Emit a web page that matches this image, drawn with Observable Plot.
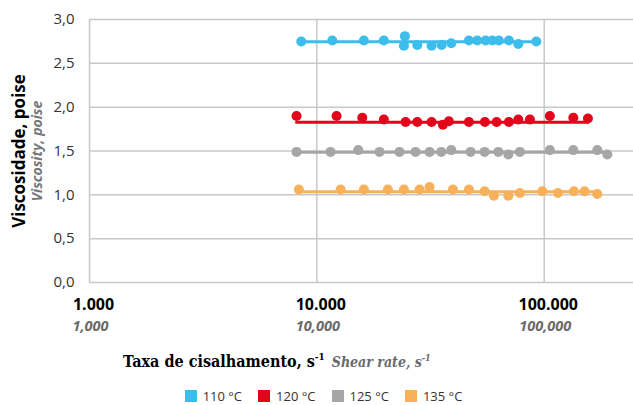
<!DOCTYPE html>
<html>
<head>
<meta charset="utf-8">
<script src="https://cdn.jsdelivr.net/npm/d3@7"></script>
<script src="https://cdn.jsdelivr.net/npm/@observablehq/plot@0.6"></script>
<style>
  body { margin: 0; background: #fff; }
  #legend { display: flex; justify-content: center; gap: 16px; height: 18px; line-height: 18px;
    font: 13px "Open Sans", sans-serif; color: #333; padding-left: 14px; }
  #legend span { display: inline-flex; align-items: center; }
  #legend i { display: inline-block; width: 12px; height: 12px; margin-right: 6px; }
</style>
</head>
<body>
<div id="chart"></div>
<div id="legend"></div>
<script>
const temps = ["110 °C", "120 °C", "125 °C", "135 °C"];
const colors = ["#3dbdec", "#e3051b", "#a6a6a6", "#f8b15b"];

const rate110 = [8540, 11690, 16100, 19710, 24390, 24150, 27650, 31960, 35370, 39020, 46640, 50780, 55240, 59110, 63200, 69940, 76920, 92320];
const visc110 = [2.75, 2.76, 2.76, 2.76, 2.81, 2.70, 2.71, 2.70, 2.71, 2.73, 2.76, 2.76, 2.76, 2.76, 2.76, 2.76, 2.72, 2.75];

const rate120 = [8140, 12210, 15840, 19710, 24560, 27650, 31960, 35840, 38080, 46640, 54840, 61740, 69940, 76920, 86510, 105900, 134300, 155700];
const visc120 = [1.90, 1.90, 1.88, 1.86, 1.83, 1.83, 1.83, 1.80, 1.84, 1.83, 1.83, 1.83, 1.83, 1.86, 1.86, 1.90, 1.88, 1.87];

const rate125 = [8140, 11490, 15210, 18870, 23110, 27180, 31320, 35260, 39020, 47460, 54670, 62840, 69500, 78180, 105900, 134300, 171200, 189500];
const visc125 = [1.49, 1.49, 1.51, 1.49, 1.49, 1.49, 1.49, 1.49, 1.51, 1.49, 1.49, 1.49, 1.46, 1.49, 1.51, 1.51, 1.51, 1.46];

const rate135 = [8330, 12720, 16100, 20530, 24150, 28310, 31320, 39660, 46640, 54670, 60070, 69500, 78180, 98080, 114900, 135100, 150500, 171200];
const visc135 = [1.06, 1.06, 1.06, 1.06, 1.06, 1.06, 1.09, 1.06, 1.06, 1.04, 0.99, 0.99, 1.02, 1.04, 1.02, 1.04, 1.04, 1.01];

// level of the fitted horizontal line for each temperature
const fitLevel = [2.745, 1.829, 1.486, 1.035];

const xTicks = [1000, 10000, 100000];
const yTicks = [0, 0.5, 1, 1.5, 2, 2.5, 3];

const rates = [rate110, rate120, rate125, rate135];
const viscs = [visc110, visc120, visc125, visc135];

const data = temps.flatMap((t, i) => rates[i].map((r, j) => ({temp: t, rate: r, visc: viscs[i][j]})));
const fitData = temps.flatMap((t, i) => [
  {temp: t, rate: d3.min(rates[i]), visc: fitLevel[i]},
  {temp: t, rate: d3.max(rates[i]), visc: fitLevel[i]}
]);

const ptFormat = d => d3.format(",")(d).replace(/,/g, ".");
const enFormat = d3.format(",");

const svg = Plot.plot({
  width: 633,
  height: 387,
  marginLeft: 89,
  marginRight: 0,
  marginTop: 19,
  marginBottom: 105,
  style: {fontFamily: "'Open Sans', sans-serif", background: "white", overflow: "visible"},
  x: {type: "log", domain: [1000, 247000]},
  y: {domain: [0, 3]},
  color: {domain: temps, range: colors},
  marks: [
    Plot.gridY(yTicks, {stroke: "#c8c8c8", strokeOpacity: 1, strokeWidth: 1.5}),
    Plot.gridX(xTicks, {stroke: "#c8c8c8", strokeOpacity: 1, strokeWidth: 1.5}),
    Plot.axisY(yTicks, {tickSize: 0, tickPadding: 15, tickFormat: d => d.toFixed(1).replace(".", ","),
      fontSize: 15, fill: "#333", label: null}),
    Plot.axisX(xTicks, {tickSize: 0, tickPadding: 16, tickFormat: ptFormat, fontSize: 16,
      fontWeight: "bold", fill: "#000", label: null, dx: 4}),
    Plot.axisX(xTicks, {tickSize: 0, tickPadding: 38, tickFormat: enFormat, fontSize: 14.5,
      fontStyle: "italic", fontWeight: "bold", fill: "#6a6a6a", label: null, dx: 1}),
    Plot.line(fitData, {x: "rate", y: "visc", z: "temp", stroke: "temp", strokeWidth: 3}),
    Plot.dot(data, {x: "rate", y: "visc", fill: "temp", r: 5})
  ]
});
document.getElementById("chart").appendChild(svg);

const s = d3.select(svg);
s.append("text")
  .attr("transform", "translate(25,151) rotate(-90)")
  .attr("text-anchor", "middle")
  .style("font", "bold 17px 'Open Sans', sans-serif")
  .attr("fill", "#000")
  .text("Viscosidade, poise");
s.append("text")
  .attr("transform", "translate(42,151) rotate(-90)")
  .attr("text-anchor", "middle")
  .style("font", "italic bold 14px 'Open Sans', sans-serif")
  .attr("fill", "#777")
  .text("Viscosity, poise");

const xt = s.append("text").attr("x", 123).attr("y", 367).attr("text-anchor", "start");
xt.append("tspan").style("font", "bold condensed 16px 'DejaVu Serif', serif").attr("fill", "#000").text("Taxa de cisalhamento, s");
xt.append("tspan").style("font", "bold condensed 10px 'DejaVu Serif', serif").attr("fill", "#000").attr("dy", -7).text("-1");
xt.append("tspan").style("font", "italic bold condensed 14px 'DejaVu Serif', serif").attr("fill", "#6a6a6a").attr("dy", 7).attr("dx", 7).text("Shear rate, s");
xt.append("tspan").style("font", "italic bold condensed 9px 'DejaVu Serif', serif").attr("fill", "#6a6a6a").attr("dy", -6).text("-1");

const legend = d3.select("#legend");
temps.forEach((t, i) => {
  const item = legend.append("span");
  item.append("i").style("background", colors[i]);
  item.append("text").text(t);
});
</script>
</body>
</html>
